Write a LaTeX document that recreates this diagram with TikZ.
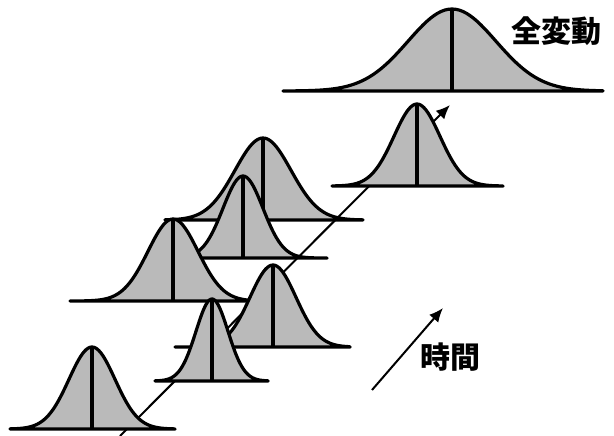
\documentclass[tikz,border=0pt]{standalone}
\usepackage{fontspec}
\usetikzlibrary{arrows.meta}
\newfontfamily\cjk{Noto Sans CJK JP}
\definecolor{Stipple}{HTML}{BABABA}

\begin{document}
\begin{tikzpicture}[x=1pt,y=-1pt,
    bell/.style={line width=3.2pt,line join=round,fill=Stipple},
    mean/.style={line width=3.3pt},
    arr/.style={-{Latex[length=14pt,width=12pt]},line width=2pt},
    lbl/.style={font=\cjk\bfseries\fontsize{30}{30}\selectfont,inner sep=0pt}
  ]
  \useasboundingbox (0,0) rectangle (614,436);
  % time axis, hidden behind the curves
  \coordinate (t0) at (120,436);
  \coordinate (t1) at (450,105);
  \draw[arr] (t0) -- (t1);
  % centre/baseline/left/right/sigma, back to front
  \foreach \cx/\yb/\l/\r/\s in {452/91/-169/151/44, 417/186/-85/86/23,
      263/220/-98/100/28, 243/258/-62/84/20, 173/301/-103/77/25,
      273/347/-98/77/23, 212/381/-57/56/16, 92/429/-82/83/23}{
    \draw[bell] (\cx+\l,\yb) -- plot[domain=\l:\r,samples=90]
      ({\cx+\x},{\yb-82*exp(-0.5*(\x/\s)^2)}) -- (\cx+\r,\yb) -- cycle;
    \draw[mean] (\cx,\yb) -- (\cx,\yb-82);
  }
  \node[lbl] (total) at (556,31) {全変動};
  % small time arrow
  \coordinate (s0) at (372,390);
  \coordinate (s1) at (443,308);
  \draw[arr] (s0) -- (s1);
  \node[lbl] (time) at (450,357) {時間};
\end{tikzpicture}
\end{document}
